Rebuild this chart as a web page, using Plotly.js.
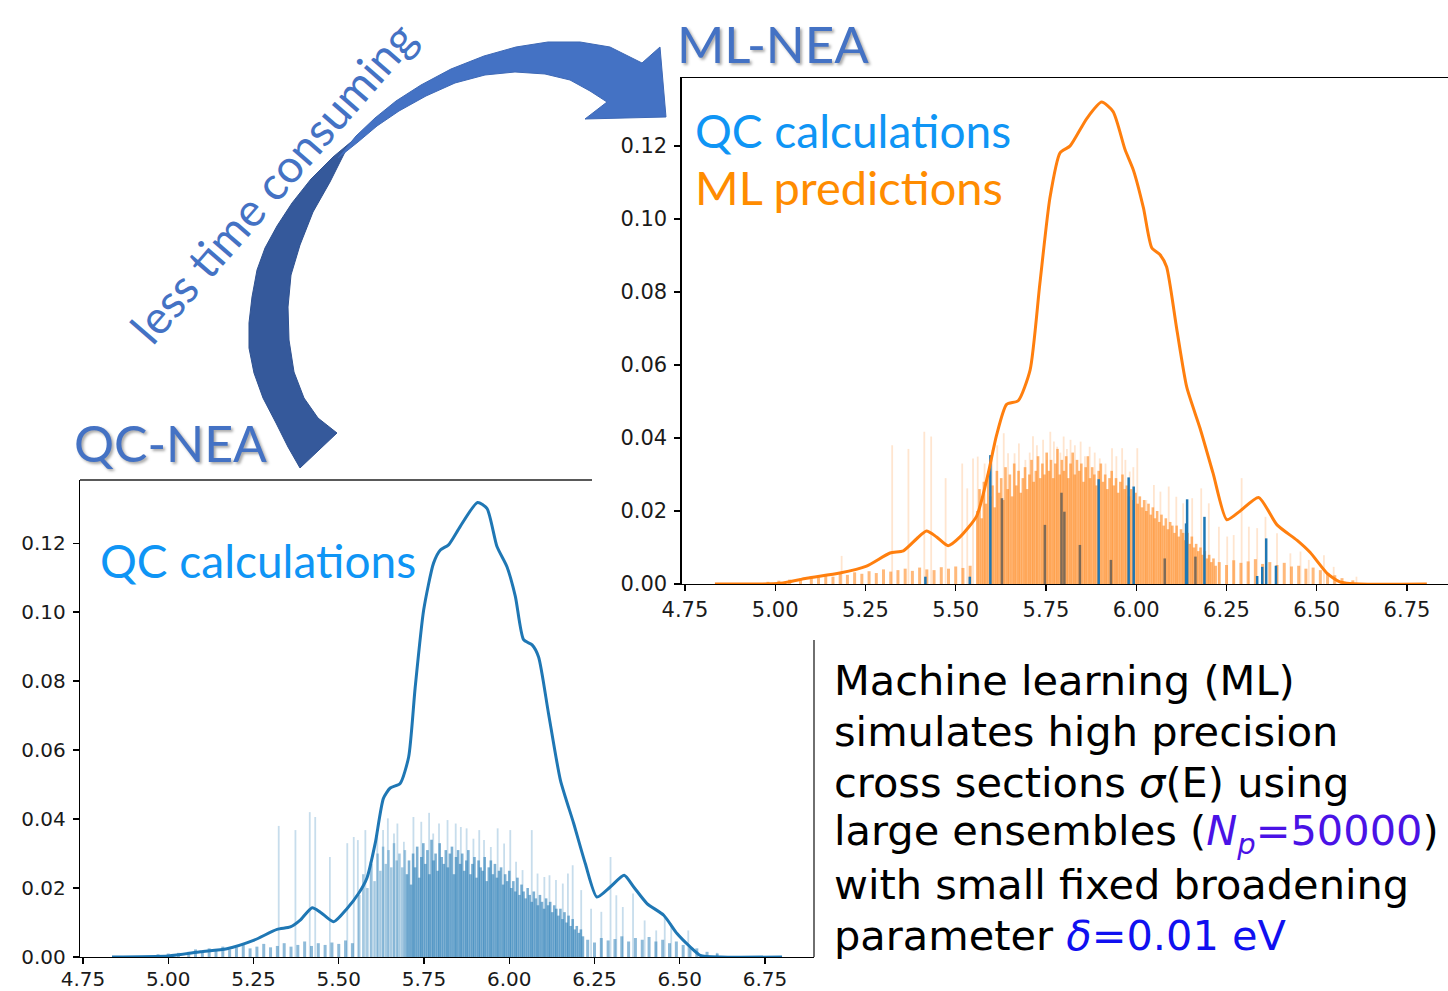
<!DOCTYPE html>
<html>
<head>
<meta charset="utf-8">
<script src="https://cdn.plot.ly/plotly-3.0.1.min.js"></script>
<style>html,body{margin:0;padding:0;background:#fff;overflow:hidden}</style>
</head>
<body>
<div id="chart" style="width:1448px;height:991px"></div>
<script>
// ---------------- DATA ----------------
// QC-NEA spectrum (bottom-left panel): broadened curve
const qcCurveE = [4.835,5.00,5.094,5.172,5.25,5.319,5.358,5.387,5.422,5.446,5.485,5.524,5.558,5.583,5.607,5.631,5.651,5.68,5.705,5.724,5.749,5.778,5.798,5.822,5.856,5.907,5.935,5.964,5.993,6.018,6.042,6.067,6.086,6.115,6.15,6.189,6.223,6.257,6.296,6.337,6.365,6.404,6.453,6.492,6.531,6.56,6.62,6.80];
const qcCurveS = [0,0.0003,0.0015,0.0024,0.0048,0.008,0.0087,0.0107,0.0143,0.013,0.0102,0.014,0.0184,0.023,0.033,0.046,0.049,0.0503,0.058,0.078,0.1006,0.1142,0.118,0.1195,0.1248,0.1318,0.130,0.119,0.1132,0.1045,0.092,0.0905,0.087,0.0707,0.0513,0.0387,0.0271,0.0174,0.0203,0.0237,0.0203,0.0155,0.0121,0.0068,0.0029,0.0005,0,0];

// QC stick spectrum (bottom-left): tall sparse sticks
const qcTallE = [5.324,5.373,5.415,5.431,5.474,5.525,5.544,5.556,5.578,5.593,5.613,5.63,5.644,5.662,5.672,5.691,5.719,5.742,5.765,5.777,5.794,5.819,5.843,5.858,5.875,5.895,5.912,5.926,5.946,5.966,5.985,6.003,6.02,6.039,6.066,6.083,6.103,6.118,6.137,6.157,6.172,6.186,6.211,6.24,6.27,6.297,6.314,6.333,6.363,6.397,6.431,6.456,6.475,6.525,6.609];
const qcTallS = [0.038,0.0368,0.042,0.0406,0.029,0.033,0.0348,0.0339,0.0368,0.0276,0.0358,0.0368,0.0402,0.0358,0.0387,0.0334,0.0406,0.0392,0.0418,0.0358,0.0387,0.0397,0.0387,0.0377,0.0373,0.0343,0.0368,0.0339,0.0319,0.0373,0.0329,0.0368,0.0276,0.0252,0.0368,0.0242,0.0232,0.0237,0.0223,0.0213,0.0242,0.0266,0.0194,0.014,0.0131,0.029,0.0179,0.0145,0.0184,0.0106,0.0077,0.0116,0.0097,0.0077,0.0012];
// QC sticks: medium-density region before the core
const qcMidE = [5.560,5.572,5.584,5.596,5.605,5.614,5.622,5.630,5.638,5.646,5.654,5.662,5.670,5.678,5.686,5.694];
const qcMidS = [0.018,0.024,0.020,0.027,0.022,0.030,0.025,0.032,0.027,0.031,0.026,0.033,0.028,0.030,0.026,0.031];
// QC sticks: dense core
const qcCoreE = [5.700,5.706,5.712,5.718,5.724,5.730,5.736,5.742,5.748,5.754,5.760,5.766,5.772,5.778,5.784,5.790,5.796,5.802,5.808,5.814,5.820,5.826,5.832,5.838,5.844,5.850,5.856,5.862,5.868,5.874,5.880,5.886,5.892,5.898,5.904,5.910,5.916,5.922,5.928,5.934,5.940,5.946,5.952,5.958,5.964,5.970,5.976,5.982,5.988,5.994,6.000,6.006,6.012,6.018,6.024,6.030,6.036,6.042,6.048,6.054,6.060,6.066,6.072,6.078,6.084,6.090,6.096,6.102,6.108,6.114,6.120,6.126,6.132,6.138,6.144,6.150,6.156,6.162,6.168,6.174,6.180,6.186,6.192,6.198,6.204,6.210,6.216];
const qcCoreS = [0.024,0.028,0.021,0.030,0.026,0.032,0.023,0.029,0.033,0.027,0.031,0.024,0.034,0.028,0.030,0.025,0.033,0.029,0.027,0.031,0.026,0.030,0.032,0.024,0.029,0.031,0.027,0.030,0.025,0.028,0.031,0.024,0.027,0.029,0.023,0.028,0.026,0.025,0.029,0.022,0.026,0.028,0.024,0.027,0.023,0.025,0.026,0.021,0.024,0.022,0.025,0.020,0.022,0.019,0.023,0.018,0.021,0.019,0.017,0.020,0.018,0.016,0.019,0.017,0.015,0.018,0.016,0.014,0.017,0.015,0.016,0.013,0.015,0.014,0.012,0.014,0.011,0.013,0.010,0.012,0.009,0.011,0.008,0.009,0.007,0.008,0.006];
// QC sticks: low baseline fuzz
const qcLowE = [4.97,5.00,5.03,5.06,5.08,5.10,5.12,5.14,5.16,5.18,5.20,5.22,5.24,5.26,5.28,5.30,5.32,5.34,5.36,5.38,5.40,5.42,5.44,5.46,5.48,5.50,5.52,5.54,6.23,6.25,6.27,6.29,6.31,6.33,6.35,6.37,6.39,6.41,6.43,6.45,6.47,6.49,6.51,6.53,6.55,6.58,6.61];
const qcLowS = [0.0008,0.001,0.0012,0.0015,0.0022,0.0018,0.0025,0.002,0.003,0.0022,0.0028,0.0035,0.0025,0.003,0.0038,0.0028,0.0032,0.004,0.003,0.0035,0.0045,0.0032,0.004,0.0035,0.0042,0.0038,0.0048,0.004,0.005,0.0042,0.0055,0.0048,0.0052,0.006,0.0045,0.0055,0.005,0.0058,0.0045,0.005,0.004,0.0045,0.0035,0.003,0.0025,0.0015,0.001];

// ML-NEA spectrum (top-right panel): broadened curve
const mlCurveE = [4.833,5.014,5.087,5.179,5.253,5.318,5.355,5.392,5.419,5.447,5.479,5.512,5.558,5.59,5.613,5.641,5.673,5.706,5.733,5.761,5.789,5.817,5.863,5.904,5.936,5.969,5.992,6.02,6.043,6.066,6.084,6.112,6.14,6.177,6.213,6.251,6.288,6.339,6.39,6.445,6.482,6.528,6.564,6.62,6.805];
const mlCurveS = [0,0.0002,0.0016,0.003,0.0049,0.0085,0.0091,0.0124,0.0145,0.0129,0.0105,0.0129,0.0186,0.0303,0.0407,0.0492,0.0502,0.0586,0.0822,0.1058,0.1181,0.12,0.1275,0.132,0.1294,0.119,0.1134,0.103,0.0921,0.0902,0.0869,0.07,0.0539,0.0426,0.0303,0.0176,0.02,0.0237,0.0162,0.012,0.0086,0.003,0.0006,0,0];
// ML sticks: tall faint
const mlTallE = [5.184,5.324,5.369,5.413,5.432,5.472,5.518,5.532,5.548,5.561,5.58,5.601,5.615,5.633,5.645,5.663,5.675,5.693,5.705,5.714,5.725,5.742,5.752,5.762,5.772,5.781,5.79,5.799,5.808,5.818,5.83,5.846,5.858,5.871,5.885,5.899,5.915,5.933,5.945,5.961,5.97,5.982,5.992,6.003,6.028,6.049,6.067,6.09,6.111,6.13,6.155,6.18,6.201,6.229,6.252,6.27,6.292,6.312,6.335,6.358,6.39,6.427,6.455,6.478,6.52,6.547,6.61];
const mlTallS = [0.0077,0.038,0.037,0.0417,0.0404,0.029,0.033,0.0262,0.0344,0.0349,0.033,0.0367,0.038,0.0413,0.0358,0.0358,0.0385,0.034,0.036,0.0405,0.038,0.0395,0.034,0.0417,0.039,0.0376,0.036,0.0404,0.037,0.0395,0.038,0.039,0.035,0.0376,0.036,0.0344,0.033,0.0372,0.035,0.0372,0.034,0.0308,0.032,0.0372,0.023,0.0271,0.0253,0.0267,0.0239,0.0221,0.0235,0.0262,0.0221,0.0157,0.013,0.0134,0.029,0.0157,0.0153,0.0184,0.0139,0.0084,0.0089,0.0066,0.0079,0.0047,0.002];
// ML sticks: dense core
const mlCoreE = [5.560,5.566,5.572,5.578,5.584,5.590,5.596,5.602,5.608,5.614,5.620,5.626,5.632,5.638,5.644,5.650,5.656,5.662,5.668,5.674,5.680,5.686,5.692,5.698,5.704,5.710,5.716,5.722,5.728,5.734,5.740,5.746,5.752,5.758,5.764,5.770,5.776,5.782,5.788,5.794,5.800,5.806,5.812,5.818,5.824,5.830,5.836,5.842,5.848,5.854,5.860,5.866,5.872,5.878,5.884,5.890,5.896,5.902,5.908,5.914,5.920,5.926,5.932,5.938,5.944,5.950,5.956,5.962,5.968,5.974,5.980,5.986,5.992,5.998,6.004,6.010,6.016,6.022,6.028,6.034,6.040,6.046,6.052,6.058,6.064,6.070,6.076,6.082,6.088,6.094,6.100,6.106,6.112,6.118,6.124,6.130,6.136,6.142,6.148,6.154,6.160,6.166,6.172,6.178,6.184,6.190,6.196,6.202,6.208,6.214,6.220];
const mlCoreS = [0.020,0.026,0.018,0.028,0.022,0.030,0.024,0.027,0.021,0.031,0.025,0.029,0.023,0.032,0.026,0.030,0.024,0.033,0.027,0.031,0.025,0.029,0.032,0.026,0.030,0.034,0.028,0.031,0.035,0.029,0.033,0.030,0.036,0.031,0.034,0.029,0.033,0.037,0.030,0.034,0.031,0.035,0.029,0.033,0.036,0.030,0.034,0.031,0.033,0.028,0.032,0.035,0.029,0.032,0.030,0.027,0.031,0.033,0.028,0.030,0.026,0.029,0.031,0.027,0.029,0.025,0.028,0.030,0.026,0.027,0.024,0.026,0.023,0.025,0.022,0.024,0.021,0.023,0.020,0.022,0.019,0.021,0.018,0.020,0.017,0.019,0.016,0.018,0.015,0.017,0.016,0.014,0.016,0.013,0.015,0.014,0.012,0.014,0.011,0.013,0.010,0.011,0.009,0.010,0.008,0.009,0.007,0.008,0.006,0.007,0.005];
// ML sticks: low baseline fuzz
const mlLowE = [4.98,5.01,5.04,5.07,5.10,5.12,5.14,5.16,5.18,5.20,5.22,5.24,5.26,5.28,5.30,5.32,5.34,5.36,5.38,5.40,5.42,5.44,5.46,5.48,5.50,5.52,5.54,6.23,6.25,6.27,6.29,6.31,6.33,6.35,6.37,6.39,6.41,6.43,6.45,6.47,6.49,6.51,6.53,6.55,6.57,6.60];
const mlLowS = [0.0006,0.0009,0.0012,0.0015,0.002,0.0018,0.0025,0.002,0.003,0.0025,0.0032,0.0028,0.0035,0.003,0.004,0.0034,0.0038,0.0042,0.0036,0.0045,0.004,0.0038,0.0046,0.0042,0.0048,0.0044,0.005,0.006,0.0052,0.0065,0.0058,0.0062,0.0068,0.0055,0.006,0.0052,0.0058,0.0048,0.005,0.0042,0.0045,0.0038,0.003,0.0024,0.0016,0.001];
// QC sticks drawn in the top-right panel
const qcTopBlueE = [5.416,5.539,5.596,5.896,5.979,5.993,6.141,6.138,6.189,6.36,6.387,6.349,6.335];
const qcTopBlueS = [0.002,0.002,0.0353,0.0287,0.0292,0.0267,0.0232,0.0166,0.0184,0.0125,0.005,0.0047,0.0022];
const qcTopMutedE = [5.628,5.747,5.793,5.801,5.844,5.93,6.079,6.164];
const qcTopMutedS = [0.0235,0.0162,0.025,0.0198,0.0107,0.0066,0.007,0.0075];

const xTicks = [4.75,5.00,5.25,5.50,5.75,6.00,6.25,6.50,6.75];
const yTicks = [0.00,0.02,0.04,0.06,0.08,0.10,0.12];

// ---------------- BUILD ----------------
const W = 1448, H = 991;
const fx = x => x / W;
const fy = y => 1 - y / H;

function sticks(E, S, xa, ya, color, width) {
  const x = [], y = [];
  E.forEach((e, i) => { x.push(e, e, null); y.push(0, S[i], null); });
  return {type:'scatter', mode:'lines', x, y, xaxis:xa, yaxis:ya,
          line:{color, width}, hoverinfo:'skip', showlegend:false, connectgaps:false};
}
function curve(E, S, xa, ya, color) {
  return {type:'scatter', mode:'lines', x:E, y:S, xaxis:xa, yaxis:ya,
          line:{color, width:3, shape:'spline', smoothing:0.6}, hoverinfo:'skip', showlegend:false};
}

const BLUE = '#1f77b4', ORANGE = '#ff7f0e';
const traces = [
  // bottom-left panel
  sticks(qcLowE, qcLowS, 'x', 'y', 'rgba(31,119,180,0.5)', 3),
  sticks(qcTallE, qcTallS, 'x', 'y', 'rgba(31,119,180,0.25)', 1.8),
  sticks(qcMidE, qcMidS, 'x', 'y', 'rgba(31,119,180,0.4)', 2.5),
  sticks(qcCoreE, qcCoreS, 'x', 'y', 'rgba(31,119,180,0.58)', 2.6),
  curve(qcCurveE, qcCurveS, 'x', 'y', BLUE),
  // top-right panel
  sticks(mlLowE, mlLowS, 'x2', 'y2', 'rgba(255,127,14,0.55)', 3),
  sticks(mlTallE, mlTallS, 'x2', 'y2', 'rgba(255,127,14,0.2)', 1.8),
  sticks(mlCoreE, mlCoreS, 'x2', 'y2', 'rgba(255,127,14,0.58)', 2.6),
  sticks(qcTopMutedE, qcTopMutedS, 'x2', 'y2', 'rgba(105,95,85,0.85)', 2.5),
  sticks(qcTopBlueE, qcTopBlueS, 'x2', 'y2', BLUE, 2.5),
  curve(mlCurveE, mlCurveS, 'x2', 'y2', ORANGE)
];

const tickFont = {family:'DejaVu Sans', size:20, color:'#1a1a1a'};
const axisCommon = {showgrid:false, zeroline:false, showline:true, linecolor:'#000', linewidth:1.3,
  ticks:'outside', ticklen:6, tickwidth:1.2, tickcolor:'#000', tickformat:'.2f', fixedrange:true};

const layout = {
  width:W, height:H, margin:{l:0,r:0,t:0,b:0,pad:0}, paper_bgcolor:'#fff', plot_bgcolor:'rgba(0,0,0,0)',
  showlegend:false,
  xaxis: Object.assign({}, axisCommon, {domain:[fx(80), fx(814)], range:[4.7412, 6.8937], anchor:'y',
          tickvals:xTicks, tickfont:tickFont, ticklabelstandoff:-2}),
  yaxis: Object.assign({}, axisCommon, {domain:[fy(957), fy(480)], range:[0, 0.1383], anchor:'x',
          tickvals:yTicks, tickfont:tickFont, ticklabelstandoff:3}),
  xaxis2: Object.assign({}, axisCommon, {domain:[fx(681.7), 1], range:[4.741, 6.8636], anchor:'y2', mirror:true,
          tickvals:xTicks, tickfont:Object.assign({}, tickFont, {size:21}), ticklabelstandoff:0}),
  yaxis2: Object.assign({}, axisCommon, {domain:[fy(584), fy(78)], range:[0, 0.1386], anchor:'x2',
          tickvals:yTicks, tickfont:Object.assign({}, tickFont, {size:21}), ticklabelstandoff:3}),
  shapes: [],
  annotations: []
};

// partial frame of the bottom-left panel (its top-right corner is hidden by the other panel)
layout.shapes.push({type:'line', xref:'paper', yref:'paper', x0:fx(80), x1:fx(592), y0:fy(480), y1:fy(480), line:{color:'#222', width:1.3}});
layout.shapes.push({type:'line', xref:'paper', yref:'paper', x0:fx(814), x1:fx(814), y0:fy(640), y1:fy(957), line:{color:'#222', width:1.3}});

// curved arrow (decoration)
function poly(pts) { return 'M ' + pts.map(p => fx(p[0]).toFixed(5) + ',' + fy(p[1]).toFixed(5)).join(' L ') + ' Z'; }
const darkPart = [[300,468],[288,447],[276,423],[263,398],[254,373],[249,348],[249,323],[252,297],[257,270],[265,248],[277,226],[292,203],[311,179],[333,157],[357,137],
                  [345,152],[330,182],[313,212],[300,245],[291,275],[288,307],[289,340],[294,372],[304,398],[318,418],[337,433]];
const lightPart = [[338,158],[356,136],[375,118],[396,101],[421,85],[451,69],[484,56],[516,47],[548,42],[580,42],[610,47],[642,63],
                   [660,47],[666,117],[585,119],[607,102],
                   [590,91],[570,80],[545,74],[515,72],[485,75],[455,83],[426,96],[399,111],[377,126],[358,142]];
layout.shapes.push({type:'path', xref:'paper', yref:'paper', path:poly(darkPart), fillcolor:'#35599b', line:{color:'#2f5291', width:1}, layer:'above'});
layout.shapes.push({type:'path', xref:'paper', yref:'paper', path:poly(lightPart), fillcolor:'#4472c4', line:{color:'#3e69b6', width:1}, layer:'above'});

const cal = 'Lato, "Open Sans", sans-serif';
function ann(text, x, y, font, extra) {
  return Object.assign({text, x:fx(x), y:fy(y), xref:'paper', yref:'paper', showarrow:false,
    xanchor:'left', yanchor:'middle', font}, extra || {});
}
const shadow = '2px 2px 3px rgba(0,0,0,0.35)';
layout.annotations.push(ann('QC-NEA', 72, 443, {family:cal, size:50, color:'#4472c4', shadow}));
layout.annotations.push(ann('ML-NEA', 675, 43, {family:cal, size:51, color:'#4472c4', shadow}));
layout.annotations.push(ann('less time consuming', 272, 182, {family:cal, size:46, color:'#4472c4'}, {xanchor:'center', textangle:-49}));
layout.annotations.push(ann('QC calculations', 98, 560, {family:cal, size:46, color:'#0f95f5'}));
layout.annotations.push(ann('QC calculations', 693, 130, {family:cal, size:46, color:'#0f95f5'}));
layout.annotations.push(ann('ML predictions', 693, 187, {family:cal, size:47, color:'#ff8c00'}));

const bodyFont = {family:'DejaVu Sans', size:41.5, color:'#000'};
const lines = [
  'Machine learning (ML)',
  'simulates high precision',
  'cross sections <i>σ</i>(E) using',
  'large ensembles (<span style="color:#4a12e6"><i>N</i><sub><i>p</i></sub>=50000</span>)',
  'with small fixed broadening',
  'parameter <span style="color:#1010f0"><i>δ</i>=0.01 eV</span>'
];
const lineY = [680, 731, 782, 833, 884, 935];
lines.forEach((t, i) => layout.annotations.push(ann(t, 832, lineY[i], bodyFont)));

Plotly.newPlot('chart', traces, layout, {staticPlot:true, displayModeBar:false});
</script>
</body>
</html>
